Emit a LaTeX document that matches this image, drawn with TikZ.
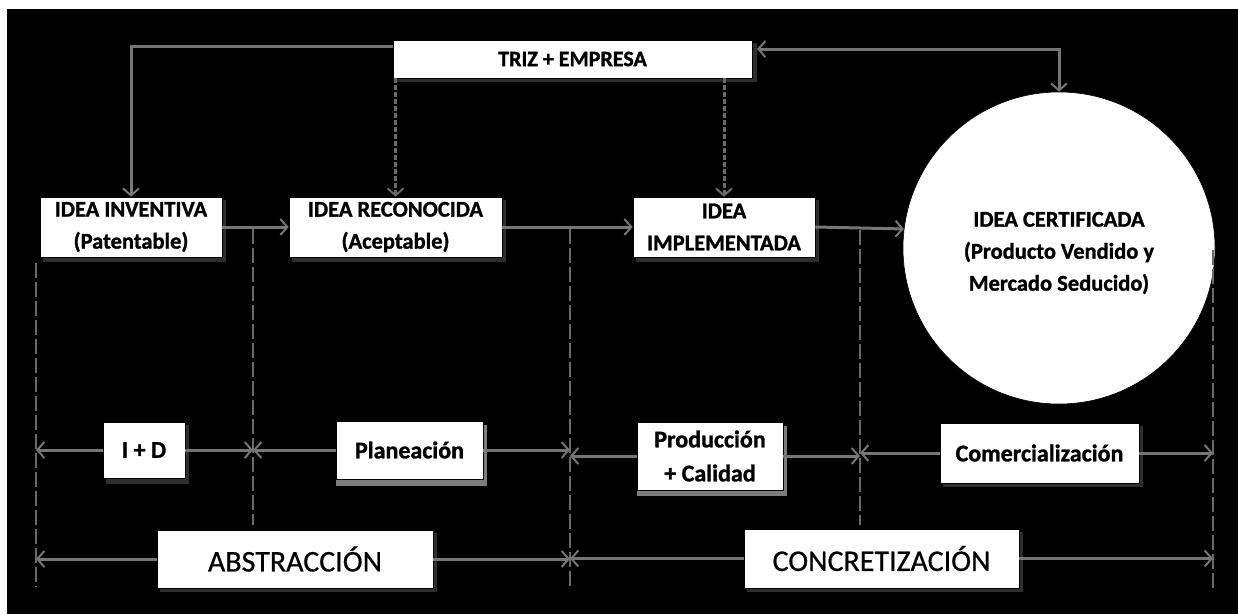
\documentclass[tikz,border=0pt]{standalone}
\usepackage{fontspec}
\setmainfont{Carlito}[BoldFeatures={FakeBold=1.2}]
\newfontfamily\bigfont{Carlito}[FakeBold=0.6]
\usetikzlibrary{arrows.meta,calc}
\definecolor{ln}{HTML}{767676}
\definecolor{dl}{HTML}{6A6A6A}
\definecolor{shd}{HTML}{2E2E2E}
\definecolor{shl}{HTML}{7C7C7C}
\begin{document}
\begin{tikzpicture}[x=1pt,y=-1pt,
  box/.style={draw=black,line width=0.6pt,fill=white,inner sep=0pt,align=center,
     font=\fontsize{22.5}{32}\selectfont\bfseries},
  rowbox/.style={box,font=\fontsize{24}{34}\selectfont\bfseries},
  bigbox/.style={box,font=\fontsize{30}{34}\selectfont\bigfont},
  arr/.style={draw=ln,line width=3pt,-{Straight Barb[length=7pt,width=16pt,line width=2pt]}},
  darr/.style={draw=ln,line width=3pt,{Straight Barb[length=7pt,width=16pt,line width=2pt]}-{Straight Barb[length=7pt,width=16pt,line width=2pt]}},
  vdash/.style={draw=dl,line width=2pt,dash pattern=on 15pt off 4pt},
  tdash/.style={draw=dl,line width=3pt,dash pattern=on 5pt off 2pt,-{Straight Barb[length=7pt,width=16pt,line width=2pt]}},
  shadow/.style={fill=shd},
  lshadow/.style={fill=shl}
]
\useasboundingbox (0,0) rectangle (1238,614);
\fill[white] (0,0) rectangle (1238,614);
\fill[black] (7,9) rectangle (1238,614);

% shadows
\fill[shadow] (396,43) rectangle (757,82);
\fill[shadow] (43,200) rectangle (226,262);
\fill[shadow] (292,200) rectangle (506,262);
\fill[shadow] (636,200) rectangle (819,262);
\fill[shadow] (106,425) rectangle (189,484);
\fill[lshadow] (336,425) rectangle (487,486);
\fill[lshadow] (637,426) rectangle (787,496);
\fill[shadow] (943,426) rectangle (1143,487);
\fill[shadow] (160,533) rectangle (437,592);
\fill[shadow] (747,532) rectangle (1023,592);

% nodes
\node[box,minimum width=359pt,minimum height=38pt,font=\fontsize{22}{26}\selectfont\bfseries] (triz) at (572.5,59) {TRIZ + EMPRESA};
\node[box,minimum width=182pt,minimum height=60pt] (inv) at (131,227) {IDEA INVENTIVA\\(Patentable)};
\node[box,minimum width=213pt,minimum height=60pt] (rec) at (395.5,227) {IDEA RECONOCIDA\\(Aceptable)};
\node[box,minimum width=182pt,minimum height=60pt] (imp) at (724,227) {IDEA\\IMPLEMENTADA};
\node[circle,draw=black,line width=0.6pt,fill=white,minimum size=312pt,inner sep=0pt,align=center,
  font=\fontsize{22.5}{32}\selectfont\bfseries] (cert) at (1059,248) {};
\node[align=center,font=\fontsize{22.5}{32}\selectfont\bfseries,inner sep=0pt] (certtxt) at (1059,253) {IDEA CERTIFICADA\\(Producto Vendido y\\Mercado Seducido)};
\node[rowbox,minimum width=82pt,minimum height=56pt] (id) at (144,450) {I + D};
\node[rowbox,minimum width=147pt,minimum height=58pt] (plan) at (409.5,450) {Planeación};
\node[rowbox,minimum width=146pt,minimum height=68pt] (prod) at (710,456) {Producción\\+ Calidad};
\node[rowbox,minimum width=199pt,minimum height=60pt] (com) at (1039.5,453) {Comercialización};
\node[bigbox,minimum width=276pt,minimum height=58pt] (abs) at (295,559) {ABSTRACCIÓN};
\node[bigbox,minimum width=275pt,minimum height=59pt] (con) at (881.5,558.5) {CONCRETIZACIÓN};

% vertical separators
\coordinate (v1t) at (36,263);  \coordinate (v1b) at (36,587);
\coordinate (v2t) at (253,229); \coordinate (v2b) at (253,525);
\coordinate (v3t) at (570,229); \coordinate (v3b) at (570,590);
\coordinate (v4t) at (860,230); \coordinate (v4b) at (860,525);
\coordinate (v5t) at (1213,250); \coordinate (v5b) at (1213,590);
\foreach \a in {1,...,5} {\draw[vdash] (v\a t) -- (v\a b);}

% top connections
\coordinate (tl) at (393,46);
\coordinate (tr) at (757,49);
\draw[arr] (tl) -| (inv.north);
\draw[darr] (tr) -| (cert.north);
\draw[tdash] (rec.north |- triz.south) -- (rec.north);
\draw[tdash] (imp.north |- triz.south) -- (imp.north);

% idea chain
\draw[arr] (inv.east) -- (rec.west);
\draw[arr] (rec.east) -- (imp.west);
\draw[arr] (imp.east) -- (cert.173);

% row 2
\draw[arr] (id.west) -- (id.west -| v1t);
\draw[arr] (id.east) -- (id.east -| v2t);
\draw[arr] (plan.west) -- (plan.west -| v2t);
\draw[arr] (plan.east) -- (plan.east -| v3t);
\draw[arr] (prod.west) -- (prod.west -| v3t);
\draw[arr] (prod.east) -- (prod.east -| v4t);
\draw[arr] (com.west) -- (com.west -| v4t);
\draw[arr] (com.east) -- (com.east -| v5t);

% row 3
\draw[arr] (abs.west) -- (abs.west -| v1t);
\draw[arr] (abs.east) -- (abs.east -| v3t);
\draw[arr] (con.west) -- (con.west -| v3t);
\draw[arr] (con.east) -- (con.east -| v5t);
\end{tikzpicture}
\end{document}
